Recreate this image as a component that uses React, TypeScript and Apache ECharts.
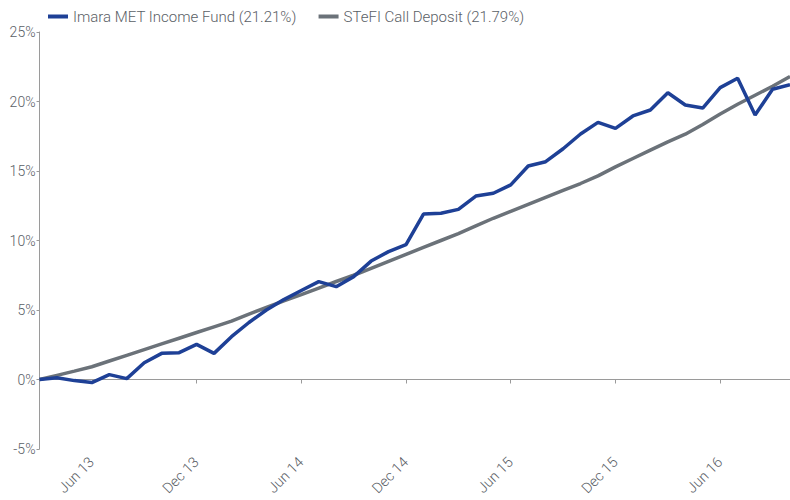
import React, { useEffect, useRef } from "react";
import * as echarts from "echarts";

const months: string[] = [
  "Mar 13", "Apr 13", "May 13", "Jun 13", "Jul 13", "Aug 13", "Sep 13", "Oct 13", "Nov 13", "Dec 13",
  "Jan 14", "Feb 14", "Mar 14", "Apr 14", "May 14", "Jun 14", "Jul 14", "Aug 14", "Sep 14", "Oct 14", "Nov 14", "Dec 14",
  "Jan 15", "Feb 15", "Mar 15", "Apr 15", "May 15", "Jun 15", "Jul 15", "Aug 15", "Sep 15", "Oct 15", "Nov 15", "Dec 15",
  "Jan 16", "Feb 16", "Mar 16", "Apr 16", "May 16", "Jun 16", "Jul 16", "Aug 16", "Sep 16", "Oct 16",
];

const imaraName = "Imara MET Income Fund (21.21%)";
const imaraValues: number[] = [
  0.0, 0.12, -0.08, -0.22, 0.35, 0.06, 1.2, 1.88, 1.93, 2.53,
  1.88, 3.08, 4.1, 5.0, 5.75, 6.4, 7.04, 6.68, 7.4, 8.52, 9.2, 9.7,
  11.9, 11.96, 12.24, 13.2, 13.4, 14.0, 15.36, 15.67, 16.6, 17.66, 18.5, 18.07,
  18.96, 19.39, 20.63, 19.75, 19.53, 21.0, 21.67, 19.03, 20.88, 21.21,
];

const stefiName = "STeFI Call Deposit (21.79%)";
const stefiValues: number[] = [
  0.0, 0.3, 0.6, 0.92, 1.33, 1.74, 2.15, 2.56, 2.97, 3.38,
  3.79, 4.2, 4.71, 5.18, 5.65, 6.11, 6.58, 7.05, 7.5, 8.0, 8.5, 9.0,
  9.5, 10.0, 10.5, 11.05, 11.6, 12.1, 12.6, 13.1, 13.6, 14.1, 14.65, 15.3,
  15.9, 16.5, 17.1, 17.65, 18.35, 19.1, 19.8, 20.45, 21.1, 21.79,
];

const FONT = "Roboto";
const TEXT = "#5a6066";
const AXIS = "#9a9a9a";

const isLabelMonth = (_i: number, v: string) =>
  typeof v === "string" && (v.startsWith("Jun") || v.startsWith("Dec"));

export default function App() {
  const ref = useRef<HTMLDivElement>(null);
  useEffect(() => {
    if (!ref.current) return;
    const chart = echarts.init(ref.current, null, { renderer: "svg" });
    chart.setOption({
      animation: false,
      textStyle: { fontFamily: FONT },
      legend: {
        left: 43,
        top: 4,
        itemWidth: 20,
        itemHeight: 4,
        itemGap: 22,
        icon: "rect",
        textStyle: { color: TEXT, fontSize: 15, fontWeight: 300, fontFamily: FONT },
        data: [imaraName, stefiName],
      },
      grid: { left: 39.5, right: 0, top: 32, bottom: 51, outerBoundsMode: "none" },
      xAxis: [
        {
          type: "category",
          data: months,
          boundaryGap: false,
          axisLine: { onZero: true, lineStyle: { color: AXIS, width: 1 } },
          axisTick: { show: true, length: 4, interval: isLabelMonth, lineStyle: { color: AXIS } },
          axisLabel: { show: false },
          splitLine: { show: false },
        },
        {
          type: "category",
          data: months,
          boundaryGap: false,
          position: "bottom",
          axisLine: { show: false, onZero: false },
          axisTick: { show: false },
          axisLabel: {
            show: true,
            interval: isLabelMonth,
            rotate: 45,
            margin: 11,
            color: TEXT,
            fontSize: 14.5,
            fontWeight: 300,
            fontFamily: FONT,
          },
          splitLine: { show: false },
        },
      ],
      yAxis: {
        type: "value",
        min: -5,
        max: 25,
        interval: 5,
        axisLine: { show: true, lineStyle: { color: AXIS, width: 1 } },
        axisTick: { show: true, length: 3, lineStyle: { color: AXIS } },
        axisLabel: { formatter: "{value}%", color: TEXT, fontSize: 14, fontWeight: 300, margin: 4, fontFamily: FONT },
        splitLine: { show: false },
      },
      series: [
        {
          name: stefiName,
          type: "line",
          data: stefiValues,
          xAxisIndex: 0,
          showSymbol: false,
          symbol: "none",
          lineStyle: { color: "#6b7279", width: 3.5 },
          itemStyle: { color: "#6b7279" },
          z: 2,
        },
        {
          name: imaraName,
          type: "line",
          data: imaraValues,
          xAxisIndex: 0,
          showSymbol: false,
          symbol: "none",
          lineStyle: { color: "#1e4096", width: 3.5 },
          itemStyle: { color: "#1e4096" },
          z: 3,
        },
      ],
    });
    return () => chart.dispose();
  }, []);
  return (
    <div
      ref={ref}
      style={{ position: "absolute", left: 0, top: 0, width: 790, height: 500 }}
    />
  );
}
